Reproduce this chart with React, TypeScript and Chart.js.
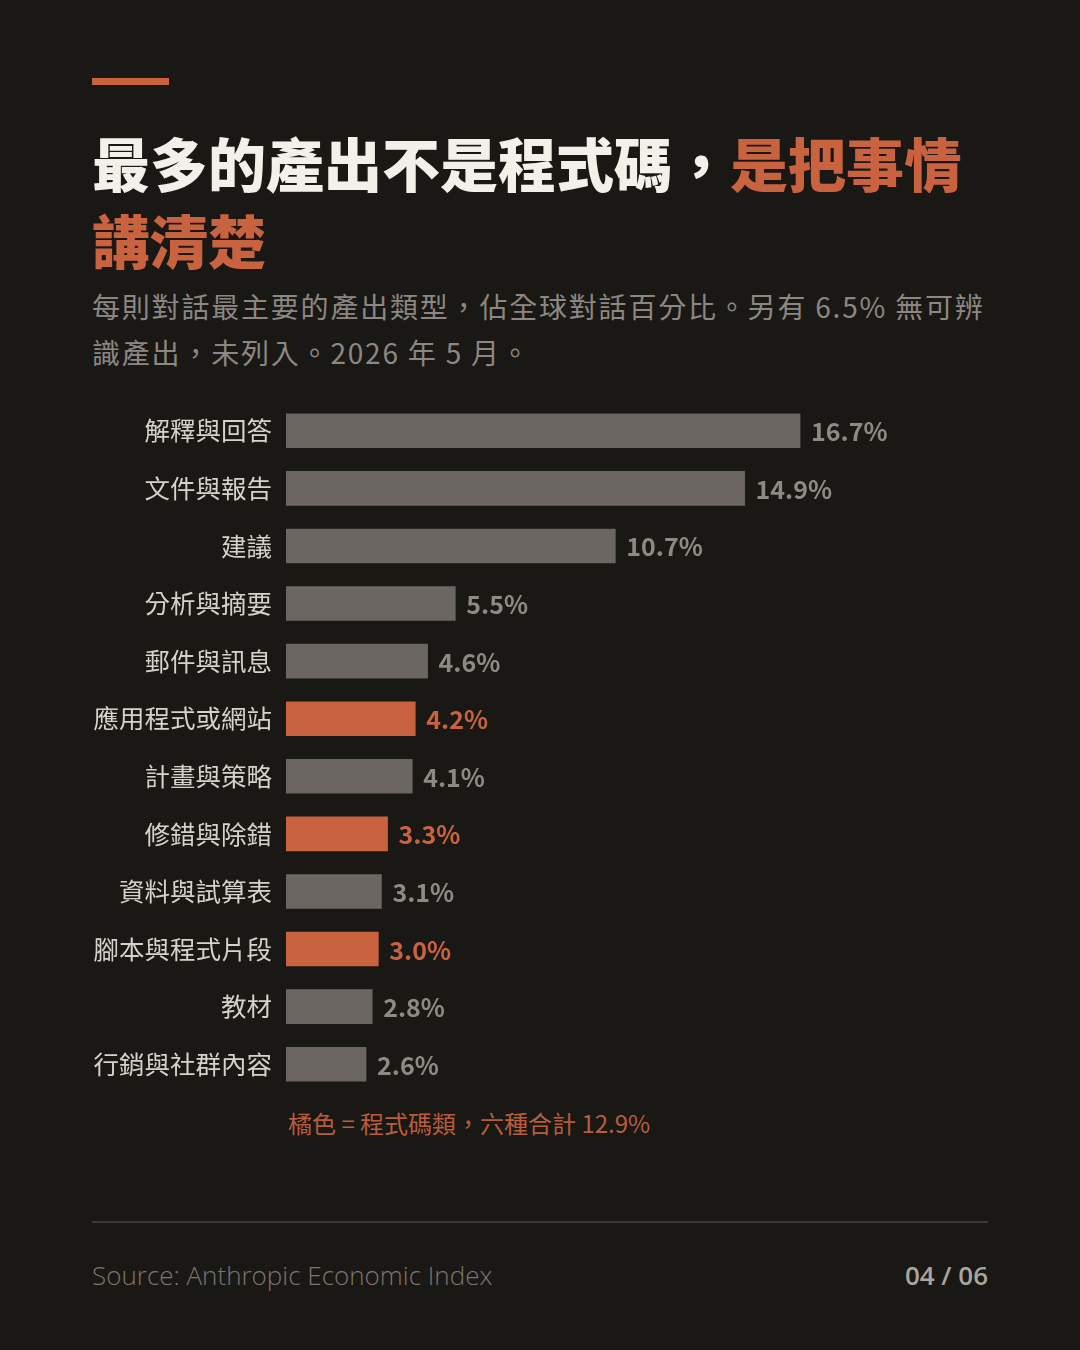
import React, { useEffect, useRef } from "react";
import { Chart, registerables } from "chart.js";

Chart.register(...registerables);

const categories = [
  "解釋與回答",
  "文件與報告",
  "建議",
  "分析與摘要",
  "郵件與訊息",
  "應用程式或網站",
  "計畫與策略",
  "修錯與除錯",
  "資料與試算表",
  "腳本與程式片段",
  "教材",
  "行銷與社群內容",
];
const values = [16.7, 14.9, 10.7, 5.5, 4.6, 4.2, 4.1, 3.3, 3.1, 3.0, 2.8, 2.6];
const isCode = [false, false, false, false, false, true, false, true, false, true, false, false];

const BG = "#1a1815";
const GREY = "#6b6661";
const ORANGE = "#c8623f";
const FONT = '"Noto Sans CJK TC", "Noto Sans", sans-serif';

export default function App() {
  const ref = useRef<HTMLCanvasElement>(null);

  useEffect(() => {
    document.body.style.margin = "0";
    document.body.style.background = BG;
    const valueLabels = {
      id: "valueLabels",
      afterDatasetsDraw(chart: any) {
        const ctx = chart.ctx;
        const meta = chart.getDatasetMeta(0);
        ctx.save();
        ctx.font = `600 25px ${FONT}`;
        ctx.textBaseline = "middle";
        ctx.textAlign = "left";
        meta.data.forEach((bar: any, i: number) => {
          ctx.fillStyle = isCode[i] ? ORANGE : "#8e8983";
          ctx.fillText(values[i].toFixed(1) + "%", bar.x + 11, bar.y + 1);
        });
        ctx.restore();
      },
    };
    const chart = new Chart(ref.current!, {
      type: "bar",
      data: {
        labels: categories,
        datasets: [
          {
            data: values,
            backgroundColor: values.map((_, i) => (isCode[i] ? ORANGE : GREY)),
            borderWidth: 0,
            barThickness: 34,
          },
        ],
      },
      options: {
        indexAxis: "y",
        animation: false,
        responsive: false,
        maintainAspectRatio: false,
        layout: { padding: { top: 0, bottom: 0, left: 0, right: 178.4 } },
        plugins: { legend: { display: false }, tooltip: { enabled: false } },
        scales: {
          x: { display: false, min: 0, max: 20 },
          y: {
            grid: { display: false, drawTicks: false },
            border: { display: false },
            ticks: {
              color: "#d6d2ca",
              font: { family: FONT, size: 25.5, weight: "normal" },
              padding: 14,
            },
            afterFit(scale: any) {
              scale.width = 286;
              scale.paddingTop = 0;
              scale.paddingBottom = 0;
            },
          },
        },
      },
      plugins: [valueLabels],
    });
    return () => chart.destroy();
  }, []);

  return (
    <div
      style={{
        position: "absolute",
        left: 0,
        top: 0,
        width: 1080,
        height: 1350,
        background: BG,
        overflow: "hidden",
        fontFamily: FONT,
      }}
    >
      <div style={{ position: "absolute", left: 92, top: 78, width: 77, height: 7, background: ORANGE }} />
      <div
        style={{
          position: "absolute",
          left: 92,
          top: 124,
          width: 920,
          fontSize: 58,
          fontWeight: 900,
          lineHeight: "77px",
          color: "#f3f0ea",
        }}
      >
        最多的產出不是程式碼，<span style={{ color: ORANGE }}>是把事情講清楚</span>
      </div>
      <div
        style={{
          position: "absolute",
          left: 92,
          top: 283,
          width: 960,
          fontSize: 28,
          letterSpacing: 1.8,
          whiteSpace: "nowrap",
          lineHeight: "46px",
          color: "#8c8782",
        }}
      >
        每則對話最主要的產出類型，佔全球對話百分比。另有 6.5% 無可辨
        <br />
        識產出，未列入。2026 年 5 月。
      </div>
      <canvas
        ref={ref}
        width={1080}
        height={691}
        style={{ position: "absolute", left: 0, top: 402, width: 1080, height: 691 }}
      />
      <div
        style={{
          position: "absolute",
          left: 288,
          top: 1107,
          fontSize: 24,
          lineHeight: "32px",
          whiteSpace: "nowrap",
          color: "#b85d3c",
        }}
      >
        橘色 = 程式碼類，六種合計 12.9%
      </div>
      <div style={{ position: "absolute", left: 92, top: 1221, width: 896, height: 2, background: "#3b3834" }} />
      <div
        style={{
          position: "absolute",
          left: 92,
          top: 1257,
          fontFamily: '"Open Sans", sans-serif',
          fontWeight: 300,
          fontSize: 26,
          lineHeight: "36px",
          color: "#7a756f",
        }}
      >
        Source: Anthropic Economic Index
      </div>
      <div
        style={{
          position: "absolute",
          right: 92,
          top: 1257,
          fontFamily: '"Open Sans", sans-serif',
          fontWeight: 600,
          fontSize: 26,
          lineHeight: "36px",
          color: "#a9a49e",
        }}
      >
        04 / 06
      </div>
    </div>
  );
}
